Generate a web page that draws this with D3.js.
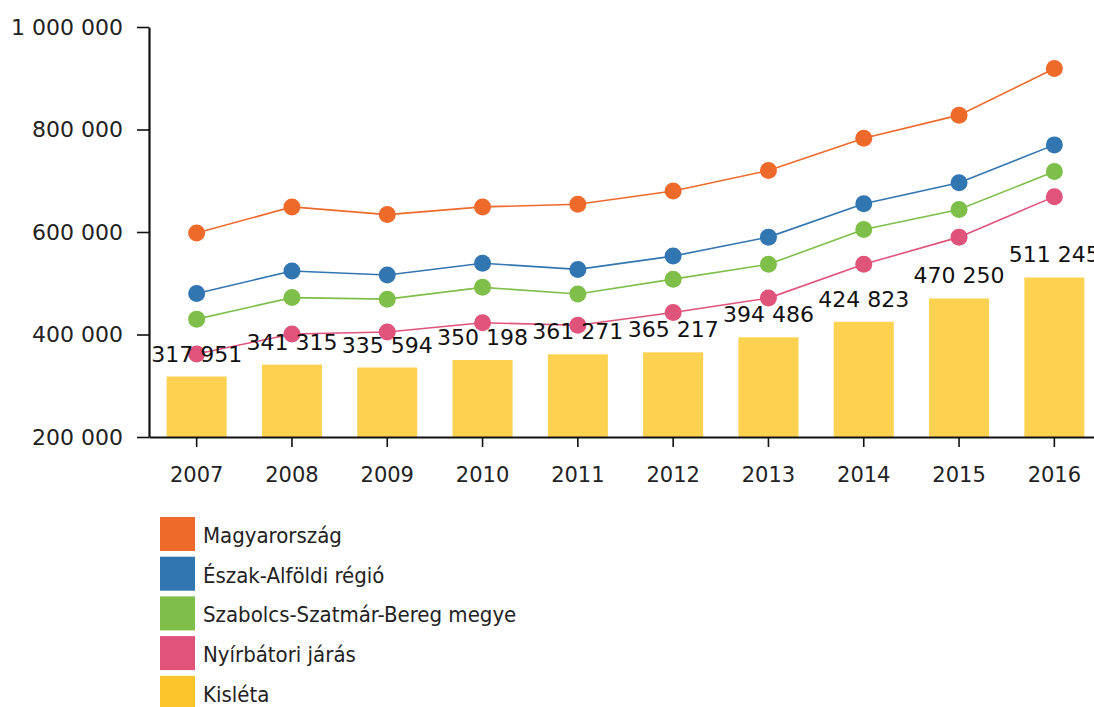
<!DOCTYPE html>
<html>
<head>
<meta charset="utf-8">
<script src="https://cdnjs.cloudflare.com/ajax/libs/d3/7.8.5/d3.min.js"></script>
<style>
  body { margin: 0; background: #fff; }
  svg { display: block; }
  .axis text { font-family: "DejaVu Sans", Verdana, sans-serif; fill: #222; }
  .axis path, .axis line { stroke: #111; }
</style>
</head>
<body>
<div id="chart"></div>
<script>
// years on the x axis
var years = ["2007", "2008", "2009", "2010", "2011", "2012", "2013", "2014", "2015", "2016"];

// line series
var magyarorszag = [598000, 649000, 634000, 649000, 654000, 680000, 720000, 783000, 828000, 919000];
var eszakAlfold = [480000, 524000, 516000, 539000, 527000, 553000, 590000, 655000, 696000, 770000];
var szabolcs = [430000, 472000, 469000, 492000, 479000, 508000, 537000, 605000, 644000, 718000];
var nyirbator = [362000, 401000, 405000, 423000, 418000, 443000, 471000, 537000, 590000, 669000];

// bar series
var kisleta = [317951, 341315, 335594, 350198, 361271, 365217, 394486, 424823, 470250, 511245];

var yTicks = [200000, 400000, 600000, 800000, 1000000];

var lineNames = ["Magyarország", "Észak-Alföldi régió", "Szabolcs-Szatmár-Bereg megye", "Nyírbátori járás"];
var lineColors = ["#ee6a2b", "#3276b1", "#7dbf48", "#e0537b"];
var barName = "Kisléta";
var barColor = "#fcd250";
var legendBarColor = "#fcc52c";

var width = 1094;
var height = 707;

var svg = d3.select("#chart")
  .append("svg")
  .attr("width", width)
  .attr("height", height);

var huLocale = d3.formatLocale({ decimal: ",", thousands: " ", grouping: [3], currency: ["", ""] });
var fmt = huLocale.format(",d");

var x = d3.scaleBand()
  .domain(years)
  .range([149, 1102])
  .paddingInner(0.37)
  .paddingOuter(0.185);

var y = d3.scaleLinear()
  .domain([200000, 1000000])
  .range([437, 27]);

function cx(d) { return x(d) + x.bandwidth() / 2; }

// bars
svg.append("g")
  .selectAll("rect")
  .data(kisleta)
  .enter().append("rect")
  .attr("x", function(d, i) { return x(years[i]); })
  .attr("y", function(d) { return y(d); })
  .attr("width", x.bandwidth())
  .attr("height", function(d) { return y(200000) - y(d); })
  .attr("fill", barColor);

// lines and dots
var series = [magyarorszag, eszakAlfold, szabolcs, nyirbator];

var line = d3.line()
  .x(function(d, i) { return cx(years[i]); })
  .y(function(d) { return y(d); });

series.forEach(function(s, k) {
  svg.append("path")
    .datum(s)
    .attr("d", line)
    .attr("fill", "none")
    .attr("stroke", lineColors[k])
    .attr("stroke-width", 1.6);

  svg.append("g")
    .selectAll("circle")
    .data(s)
    .enter().append("circle")
    .attr("cx", function(d, i) { return cx(years[i]); })
    .attr("cy", function(d) { return y(d); })
    .attr("r", 8.5)
    .attr("fill", lineColors[k]);
});

// bar value labels
svg.append("g")
  .selectAll("text")
  .data(kisleta)
  .enter().append("text")
  .attr("x", function(d, i) { return cx(years[i]); })
  .attr("y", function(d) { return y(d) - 15; })
  .attr("text-anchor", "middle")
  .attr("font-family", "DejaVu Sans, Verdana, sans-serif")
  .attr("font-size", 22)
  .attr("fill", "#111")
  .text(function(d) { return fmt(d); });

// axes
var yAxis = svg.append("g")
  .attr("class", "axis")
  .attr("transform", "translate(149,0)")
  .call(d3.axisLeft(y).tickValues(yTicks).tickFormat(fmt).tickSize(12).tickSizeOuter(0).tickPadding(14));
yAxis.selectAll("text").attr("font-size", 22);
yAxis.select(".domain").attr("stroke-width", 2.2);
yAxis.selectAll(".tick line").attr("stroke-width", 1.6);

var xAxis = svg.append("g")
  .attr("class", "axis")
  .attr("transform", "translate(0,437)")
  .call(d3.axisBottom(x).tickSize(10).tickSizeOuter(0).tickPadding(20));
xAxis.selectAll("text").attr("font-size", 21);
xAxis.select(".domain").attr("stroke-width", 2.2);
xAxis.selectAll(".tick line").attr("stroke-width", 1.6);

// legend
var legendNames = lineNames.concat([barName]);
var legendColors = lineColors.concat([legendBarColor]);

var legend = svg.append("g")
  .selectAll("g")
  .data(legendNames)
  .enter().append("g")
  .attr("transform", function(d, i) { return "translate(160," + (517 + i * 39.7) + ")"; });

legend.append("rect")
  .attr("width", 35)
  .attr("height", 34)
  .attr("fill", function(d, i) { return legendColors[i]; });

legend.append("text")
  .attr("x", 43)
  .attr("y", 26)
  .attr("font-family", "DejaVu Sans Condensed, sans-serif")
  .attr("font-size", 22)
  .attr("fill", "#222")
  .text(function(d) { return d; });
</script>
</body>
</html>
